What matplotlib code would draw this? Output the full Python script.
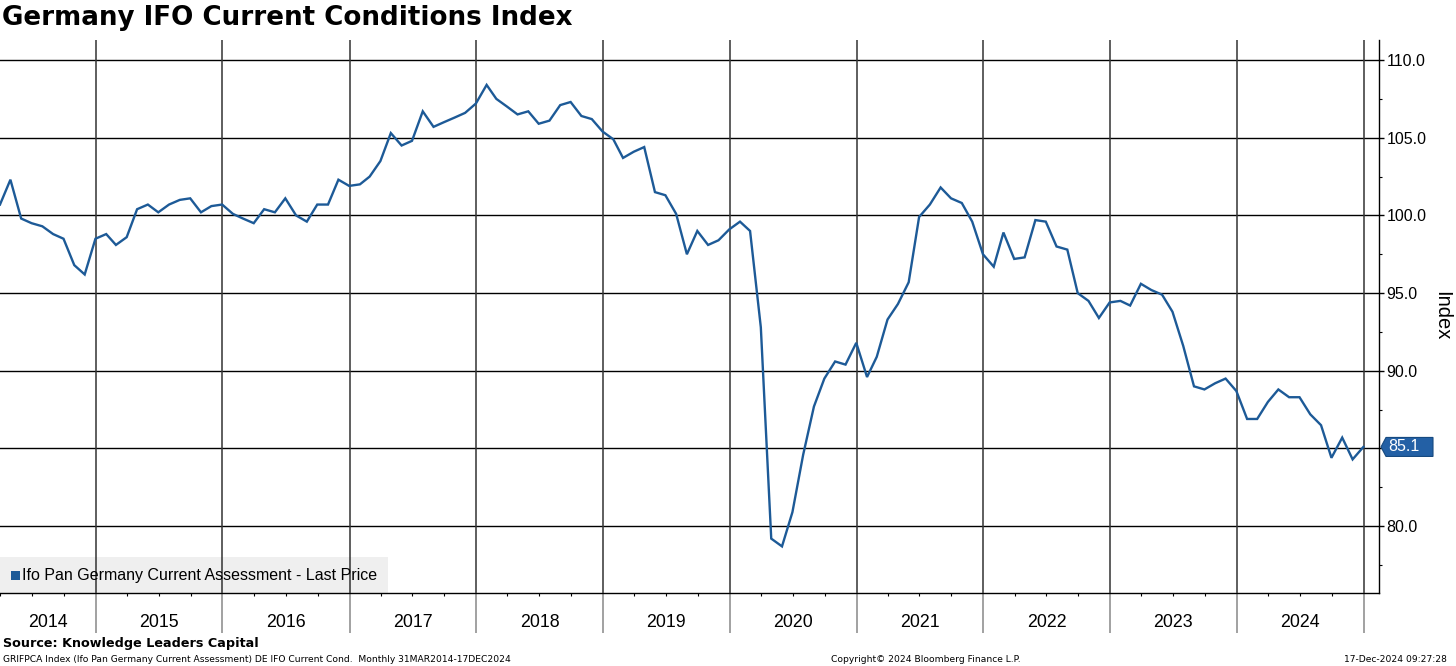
import matplotlib
matplotlib.use('Agg')
import matplotlib.pyplot as plt
import matplotlib.dates as mdates
from matplotlib.patches import Rectangle, Polygon
from matplotlib.ticker import MultipleLocator, FixedFormatter
import pandas as pd

# ---------------- data ----------------
start_date = '2014-03-31'
values = [
    100.7, 102.3, 99.8, 99.5, 99.3, 98.8, 98.5, 96.8, 96.2, 98.5,
    98.8, 98.1, 98.6, 100.4, 100.7, 100.2, 100.7, 101.0, 101.1, 100.2,
    100.6, 100.7, 100.1, 99.8, 99.5, 100.4, 100.2, 101.1, 100.0, 99.6,
    100.7, 100.7, 102.3, 101.9, 102.0, 102.5, 103.5, 105.3, 104.5, 104.8,
    106.7, 105.7, 106.0, 106.3, 106.6, 107.2, 108.4, 107.5, 107.0, 106.5,
    106.7, 105.9, 106.1, 107.1, 107.3, 106.4, 106.2, 105.4, 104.9, 103.7,
    104.1, 104.4, 101.5, 101.3, 100.1, 97.5, 99.0, 98.1, 98.4, 99.1,
    99.6, 99.0, 92.8, 79.2, 78.7, 80.9, 84.6, 87.7, 89.5, 90.6,
    90.4, 91.8, 89.6, 90.9, 93.3, 94.3, 95.7, 99.9, 100.7, 101.8,
    101.1, 100.8, 99.6, 97.5, 96.7, 98.9, 97.2, 97.3, 99.7, 99.6,
    98.0, 97.8, 95.0, 94.5, 93.4, 94.4, 94.5, 94.2, 95.6, 95.2,
    94.9, 93.8, 91.6, 89.0, 88.8, 89.2, 89.5, 88.7, 86.9, 86.9,
    88.0, 88.8, 88.3, 88.3, 87.2, 86.5, 84.4, 85.7, 84.3, 85.1,
]
dates = pd.date_range(start_date, periods=len(values), freq='ME')
years = list(range(2014, 2025))
y_ticks = [80, 85, 90, 95, 100, 105, 110]
y_tick_labels = ['80.0', '', '90.0', '95.0', '100.0', '105.0', '110.0']
title = 'Germany IFO Current Conditions Index'
legend_label = 'Ifo Pan Germany Current Assessment - Last Price'
y_label = 'Index'
source = 'Source: Knowledge Leaders Capital'
footer_left = 'GRIFPCA Index (Ifo Pan Germany Current Assessment) DE IFO Current Cond.  Monthly 31MAR2014-17DEC2024'
footer_mid = 'Copyright\u00a9 2024 Bloomberg Finance L.P.'
footer_right = '17-Dec-2024 09:27:28'
last_value = values[-1]

# ---------------- figure ----------------
W, H = 1456, 666
fig = plt.figure(figsize=(W / 100, H / 100), dpi=100)
fig.patch.set_facecolor('white')

ax_left, ax_right, ax_top, ax_bottom = 0, 1379, 40, 593
ax = fig.add_axes([ax_left / W, 1 - ax_bottom / H, (ax_right - ax_left) / W, (ax_bottom - ax_top) / H])

line_color = '#1d5a97'
ax.plot(dates, values, color=line_color, lw=1.7, zorder=5, solid_joinstyle='miter')

x0 = pd.Timestamp('2014-03-31')
x1 = pd.Timestamp('2025-02-14')
ax.set_xlim(x0, x1)
ax.set_ylim(75.7, 111.29)

# spines
for s in ['left', 'top']:
    ax.spines[s].set_visible(False)
ax.spines['bottom'].set_color('black')
ax.spines['right'].set_color('black')
ax.spines['bottom'].set_linewidth(1)
ax.spines['right'].set_linewidth(1)

# horizontal grid
for yv in y_ticks:
    ax.axhline(yv, color='black', lw=1, zorder=2)

# year separators
year_starts = [pd.Timestamp(f'{y}-01-01') for y in years[1:]] + [pd.Timestamp('2025-01-01')]
for d in year_starts:
    ax.axvline(d, color='#333333', lw=1.1, zorder=3)

# x ticks: major at year starts extend downward as separators
ax.set_xticks(year_starts)
ax.set_xticklabels([])
ax.tick_params(axis='x', which='major', direction='out', length=29, width=1.1, color='#888888')
q_ticks = [pd.Timestamp(f'{y}-{m:02d}-01') for y in range(2014, 2026) for m in (1, 4, 7, 10)
           if x0 < pd.Timestamp(f'{y}-{m:02d}-01') < x1 and m != 1]
ax.set_xticks(q_ticks, minor=True)
ax.tick_params(axis='x', which='minor', direction='out', length=2.5, width=0.8, color='black')

# year labels
bounds = [x0] + year_starts
for i, yr in enumerate(years):
    a, b = bounds[i], bounds[i + 1]
    mid = a + (b - a) / 2
    ax.annotate(str(yr), xy=(mid, 0), xycoords=('data', 'axes fraction'),
                xytext=(0, -21), textcoords='offset points', ha='center', va='center',
                fontsize=12.8, family='Liberation Sans', color='black')

# y axis on right
ax.yaxis.tick_right()
ax.set_yticks(y_ticks)
ax.yaxis.set_major_formatter(FixedFormatter(y_tick_labels))
ax.yaxis.set_minor_locator(MultipleLocator(2.5))
ax.tick_params(axis='y', which='major', direction='out', length=3.5, width=1, pad=2,
               labelsize=11.5, colors='black')
ax.tick_params(axis='y', which='minor', direction='out', length=2.5, width=0.8)
for lab in ax.get_yticklabels():
    lab.set_family('Liberation Sans')
fig.text(1442 / W, 1 - 316 / H, y_label, rotation=270, fontsize=14.5, family='Liberation Sans',
         va='center', ha='center')

# legend box
leg_w = 388 / (ax_right - ax_left)
leg_h = 36 / (ax_bottom - ax_top)
ax.add_patch(Rectangle((0, 0), leg_w, leg_h, transform=ax.transAxes, facecolor='#efefef',
                       edgecolor='none', zorder=1))
fig.patches.append(Rectangle((10.5 / W, 1 - 579.5 / H), 9 / W, 9 / H, transform=fig.transFigure,
                             facecolor=line_color, edgecolor='none'))
fig.text(22.5 / W, 1 - 575.5 / H, legend_label, fontsize=11.5, family='Liberation Sans',
         va='center', ha='left')

# last value tag
fig.canvas.draw()
_, ypix = ax.transData.transform((mdates.date2num(dates[-1]), last_value))
xr = ax.transAxes.transform((1, 0))[0]
tip = xr + 2
tag = Polygon([(tip, ypix), (tip + 5, ypix + 9.5), (tip + 52, ypix + 9.5),
               (tip + 52, ypix - 9.5), (tip + 5, ypix - 9.5)], closed=True,
              transform=None, facecolor='#2360a5', edgecolor='#174a80', lw=0.8)
fig.patches.append(tag)
fig.text((tip + 7) / W, ypix / H, f'{last_value:.1f}', color='white', fontsize=11.5,
         family='Liberation Sans', va='center', ha='left')

# titles and footers
fig.text(2 / W, 1 - 18 / H, title, fontsize=18.8, fontweight='bold', family='DejaVu Sans',
         va='center', ha='left')
fig.text(3 / W, 1 - 643 / H, source, fontsize=9.2, fontweight='bold', family='DejaVu Sans',
         va='center', ha='left')
fig.text(3 / W, 1 - 659 / H, footer_left, fontsize=6.6, family='DejaVu Sans',
         va='center', ha='left')
fig.text(926 / W, 1 - 659 / H, footer_mid, fontsize=6.6, family='DejaVu Sans',
         va='center', ha='center')
fig.text(1447 / W, 1 - 659 / H, footer_right, fontsize=6.6, family='DejaVu Sans',
         va='center', ha='right')

fig.savefig('out.png', dpi=100, facecolor='white')
